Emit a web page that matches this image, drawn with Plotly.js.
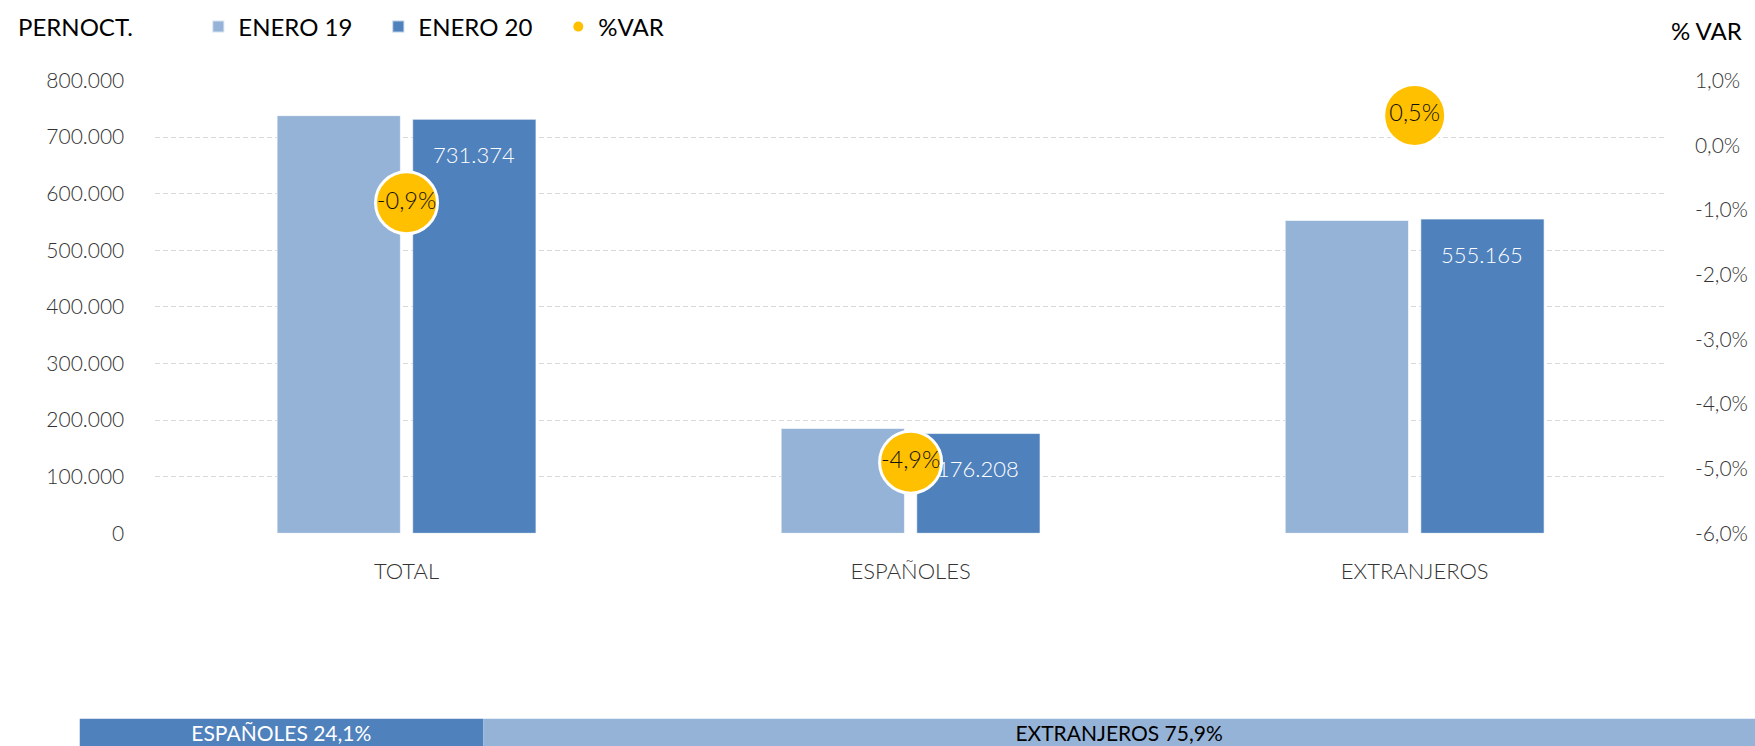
<!DOCTYPE html>
<html>
<head>
<meta charset="utf-8">
<script src="https://cdn.plot.ly/plotly-3.0.1.min.js"></script>
<style>
html,body{margin:0;padding:0;background:#ffffff;}
#chart{width:1755px;height:746px;}
</style>
</head>
<body>
<div id="chart"></div>
<script>
// ---- data ----
const categories = ['TOTAL', 'ESPAÑOLES', 'EXTRANJEROS'];
const seriesNames = ['ENERO 19', 'ENERO 20', '%VAR'];
const enero19 = [737900, 185300, 552600];
const enero20 = [731374, 176208, 555165];
const pctVar = [-0.0089, -0.049, 0.0046];
const leftTicks = [0, 100000, 200000, 300000, 400000, 500000, 600000, 700000, 800000];
const rightTicks = [-0.06, -0.05, -0.04, -0.03, -0.02, -0.01, 0, 0.01];
const shareNames = ['ESPAÑOLES', 'EXTRANJEROS'];
const leftTitle = 'PERNOCT.';
const rightTitle = '% VAR';

// ---- helpers ----
function fmtThousands(n) { return String(Math.round(n)).replace(/\B(?=(\d{3})+(?!\d))/g, '.'); }
function fmtPct(p) { return (p * 100).toFixed(1).replace('.', ',') + '%'; }

const shareValues = [enero20[1] / enero20[0] * 100, enero20[2] / enero20[0] * 100];
const shareBase = [0, shareValues[0]];
const shareLabels = shareNames.map((n, i) => n + ' ' + shareValues[i].toFixed(1).replace('.', ',') + '%');

const C_LIGHT = '#95B3D7', C_DARK = '#4F81BD', C_GOLD = '#FFC000';
const FONT = 'Lato, "Open Sans", sans-serif';
const TXT = '#333333';

const traces = [
  {
    type: 'bar', name: seriesNames[0], x: categories, y: enero19,
    xaxis: 'x', yaxis: 'y',
    marker: { color: C_LIGHT, line: { color: 'rgba(255,255,255,0.6)', width: 1 } },
    hoverinfo: 'skip'
  },
  {
    type: 'bar', name: seriesNames[1], x: categories, y: enero20,
    xaxis: 'x', yaxis: 'y',
    marker: { color: C_DARK, line: { color: 'rgba(255,255,255,0.6)', width: 1 } },
    hoverinfo: 'skip'
  },
  {
    type: 'scatter', name: seriesNames[2], x: categories, y: pctVar,
    xaxis: 'x', yaxis: 'y2', mode: 'markers+text',
    marker: { size: 62, color: C_GOLD, line: { color: '#ffffff', width: 3 } },
    text: pctVar.map(fmtPct), textposition: 'middle center',
    textfont: { family: FONT, size: 23.5, color: '#111111', weight: 300 },
    cliponaxis: false, hoverinfo: 'skip'
  },
  {
    type: 'bar', orientation: 'h', x: shareValues, base: shareBase, y: ['s', 's'],
    width: [1, 1], xaxis: 'x3', yaxis: 'y3', showlegend: false,
    marker: { color: [C_DARK, C_LIGHT] },
    text: shareLabels, textposition: 'inside', insidetextanchor: 'middle',
    textfont: { family: FONT, size: 21, color: ['#ffffff', '#000000'] },
    constraintext: 'none', cliponaxis: false, hoverinfo: 'skip'
  }
];

const annotations = categories.map((c, i) => ({
  x: c, y: enero20[i], xref: 'x', yref: 'y',
  text: fmtThousands(enero20[i]), showarrow: false,
  xshift: 67.8, yshift: -35, xanchor: 'center', yanchor: 'middle',
  font: { family: FONT, size: 22, color: '#ffffff', weight: 300 }
}));
annotations.push({
  x: 15.6 / 1755, y: 1 - 26 / 746, xref: 'paper', yref: 'paper',
  xanchor: 'left', yanchor: 'middle', showarrow: false, text: leftTitle,
  font: { family: FONT, size: 24, color: '#000000' }
});
annotations.push({
  x: 1744 / 1755, y: 1 - 30 / 746, xref: 'paper', yref: 'paper',
  xanchor: 'right', yanchor: 'middle', showarrow: false, text: rightTitle,
  font: { family: FONT, size: 24, color: '#000000' }
});

const tickFont = { family: FONT, size: 21, color: TXT, weight: 300 };

const layout = {
  width: 1755, height: 746,
  margin: { l: 0, r: 0, t: 0, b: 0, pad: 0, autoexpand: false },
  paper_bgcolor: '#ffffff', plot_bgcolor: 'rgba(0,0,0,0)',
  separators: ',.',
  barmode: 'group', bargap: 0.462, bargroupgap: 0.091,
  hovermode: false,
  showlegend: true,
  legend: {
    orientation: 'h', x: 0.113, xanchor: 'left', y: 1 - 27 / 746, yanchor: 'middle',
    font: { family: FONT, size: 24, color: '#000000' },
    entrywidth: 135, entrywidthmode: 'pixels', itemsizing: 'constant',
    bgcolor: 'rgba(0,0,0,0)', traceorder: 'normal'
  },
  xaxis: {
    domain: [154.5 / 1755, 1666.7 / 1755], anchor: 'y', type: 'category',
    showgrid: false, zeroline: false, showline: false,
    ticks: 'outside', ticklen: 18, tickcolor: 'rgba(0,0,0,0)',
    tickfont: { family: FONT, size: 22, color: TXT, weight: 300 }
  },
  yaxis: {
    domain: [212.7 / 746, 665.5 / 746], anchor: 'x', range: [0, 800000],
    tickvals: leftTicks, ticktext: leftTicks.map(fmtThousands),
    showgrid: true, gridcolor: '#D9D9D9', gridwidth: 1, griddash: '5px,3px',
    zeroline: false, showline: false,
    ticks: 'outside', ticklen: 25, tickcolor: 'rgba(0,0,0,0)',
    tickfont: tickFont
  },
  yaxis2: {
    overlaying: 'y', side: 'right', anchor: 'x', range: [-0.06, 0.01],
    tickvals: rightTicks, ticktext: rightTicks.map(fmtPct),
    showgrid: false, zeroline: false, showline: false,
    ticks: 'outside', ticklen: 23, tickcolor: 'rgba(0,0,0,0)',
    tickfont: tickFont
  },
  xaxis3: {
    domain: [79.5 / 1755, 1], anchor: 'y3', range: [0, 100],
    showgrid: false, zeroline: false, showline: false, showticklabels: false, ticks: ''
  },
  yaxis3: {
    domain: [0, 27.4 / 746], anchor: 'x3', type: 'category', range: [-0.5, 0.5],
    showgrid: false, zeroline: false, showline: false, showticklabels: false, ticks: ''
  },
  annotations: annotations
};

Plotly.newPlot('chart', traces, layout, { staticPlot: true, displayModeBar: false });
</script>
</body>
</html>
